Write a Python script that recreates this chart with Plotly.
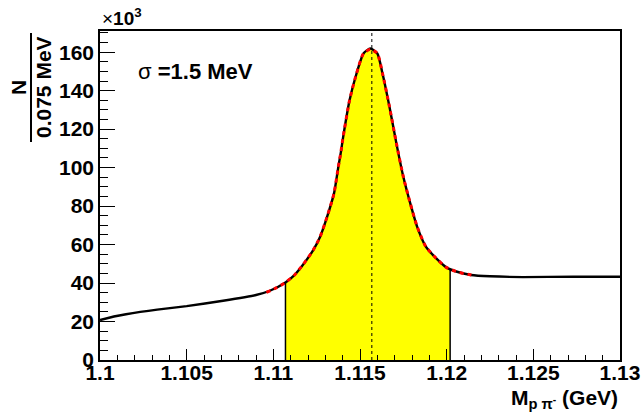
import numpy as np
import plotly.graph_objects as go

# histogram (thousands of entries per 0.075 MeV bin)
hist_x = [1.1000, 1.1008, 1.1015, 1.1033, 1.1050, 1.1071, 1.1090, 1.1098, 1.1107, 1.1112,
          1.1117, 1.1123, 1.1127, 1.1131, 1.1135, 1.11375, 1.1139, 1.1140, 1.1144,
          1.1148, 1.1152, 1.1156, 1.1160, 1.1163, 1.1167, 1.1171, 1.1175, 1.1179,
          1.1183, 1.1188, 1.1194, 1.1200, 1.1207, 1.1214, 1.1225, 1.1244, 1.1273, 1.1300]
hist_y = [20.8, 22.6, 23.8, 26.2, 28.0, 30.8, 33.8, 36.0, 40.3, 44.0,
          49.4, 57.1, 64.1, 74.4, 86.6, 100.4, 108.2, 114.3, 135.1,
          148.9, 159.3, 161.9, 159.3, 148.9, 131.6, 112.6, 95.2, 81.4,
          69.2, 58.9, 52.8, 48.0, 45.6, 44.2, 43.5, 43.1, 43.3, 43.3]

# fit curve (red dashed)
fit_x = [1.1096, 1.1102, 1.1107, 1.1112, 1.1117, 1.1123, 1.1127, 1.1131, 1.1135,
         1.11375, 1.1139, 1.1140, 1.1144, 1.1148, 1.1152, 1.1156, 1.1160, 1.1163,
         1.1167, 1.1171, 1.1175, 1.1179, 1.1183, 1.1188, 1.1194, 1.1200, 1.1207, 1.1215]
fit_y = [35.2, 37.6, 40.3, 44.0, 49.4, 57.1, 64.1, 74.4, 86.6,
         100.4, 108.2, 114.3, 135.1, 148.9, 159.3, 161.5, 159.3, 148.9,
         131.6, 112.6, 95.2, 81.4, 69.2, 58.9, 52.8, 48.0, 45.6, 44.0]

sel_lo, sel_hi = 1.1107, 1.1202
peak_mass = 1.115683

x_ticks = [1.1, 1.105, 1.11, 1.115, 1.12, 1.125, 1.13]
x_ticktext = ["1.1", "1.105", "1.11", "1.115", "1.12", "1.125", "1.13"]
y_ticks = [0, 20, 40, 60, 80, 100, 120, 140, 160]

hx = np.array(hist_x)
hy = np.array(hist_y)
inner = (hx > sel_lo) & (hx < sel_hi)
fx = np.concatenate([[sel_lo], hx[inner], [sel_hi]])
fy = np.concatenate([[np.interp(sel_lo, hx, hy)], hy[inner], [np.interp(sel_hi, hx, hy)]])

FONT = "Liberation Sans, Arial, Helvetica, sans-serif"

# plot area in page pixels: x 100..620, y 31..360
L, T, PW, PH = 100, 31, 520, 329


def px(xpix):
    return (xpix - 100) / PW


def py(ypix):
    return (360 - ypix) / PH


fig = go.Figure()
fig.add_trace(go.Scatter(x=fx, y=fy, mode="lines", line=dict(width=0, shape="spline", smoothing=0.6),
                         fill="tozeroy", fillcolor="#ffff00", hoverinfo="skip"))
fig.add_trace(go.Scatter(x=[sel_lo, sel_lo, None, sel_hi, sel_hi],
                         y=[0, fy[0], None, 0, fy[-1]], mode="lines",
                         line=dict(color="black", width=1.5)))
fig.add_trace(go.Scatter(x=hist_x, y=hist_y, mode="lines",
                         line=dict(color="black", width=2.4, shape="spline", smoothing=0.6)))
fig.add_trace(go.Scatter(x=fit_x, y=fit_y, mode="lines",
                         line=dict(color="#ff0000", width=3, dash="4px,4px", shape="spline",
                                   smoothing=0.6)))

fig.add_shape(type="line", xref="x", yref="paper", x0=peak_mass, x1=peak_mass, y0=0, y1=1,
              line=dict(color="black", width=1, dash="3px,3px"))

# y-axis title as a fraction
fig.add_annotation(text="<b>N</b>", xref="paper", yref="paper", x=px(18), y=py(88),
                   textangle=-90, showarrow=False, xanchor="center", yanchor="middle",
                   font=dict(family=FONT, size=21, color="black"))
fig.add_annotation(text="<b>0.075 MeV</b>", xref="paper", yref="paper", x=px(43), y=py(87),
                   textangle=-90, showarrow=False, xanchor="center", yanchor="middle",
                   font=dict(family=FONT, size=21, color="black"))
fig.add_shape(type="line", xref="paper", yref="paper", x0=px(31), x1=px(31),
              y0=py(33), y1=py(142), line=dict(color="black", width=2))

fig.add_annotation(text="×<b>10<sup>3</sup></b>", xref="paper", yref="paper", x=0, y=1,
                   xanchor="left", yanchor="bottom", showarrow=False,
                   font=dict(family=FONT, size=19, color="black"))
fig.add_annotation(text="σ <b>=1.5 MeV</b>", xref="paper", yref="paper", x=px(136),
                   y=py(71), xanchor="left", yanchor="middle", showarrow=False,
                   font=dict(family=FONT, size=22, color="black"))
fig.add_annotation(text="<b>M<sub>p π<sup>-</sup></sub> (GeV)</b>", xref="paper", yref="paper",
                   x=1, y=py(399), xanchor="right", yanchor="middle", showarrow=False,
                   font=dict(family=FONT, size=21, color="black"))

fig.update_layout(
    width=644, height=414, showlegend=False,
    margin=dict(l=L, r=644 - L - PW, t=T, b=414 - T - PH, autoexpand=False),
    plot_bgcolor="white", paper_bgcolor="white",
    xaxis=dict(range=[1.1, 1.13], tickvals=x_ticks, ticktext=x_ticktext, automargin=False,
               ticks="inside", ticklen=11, tickwidth=1.2, tickcolor="black",
               showline=True, linecolor="black", linewidth=1.5, mirror=True,
               showgrid=False, zeroline=False, ticklabeloverflow="allow",
               ticklabelstandoff=-7,
               tickfont=dict(family=FONT, size=21, color="black", weight="bold"),
               minor=dict(dtick=0.001, tick0=1.1, ticks="inside", ticklen=5,
                          tickwidth=1.2, tickcolor="black", showgrid=False)),
    yaxis=dict(range=[0, 171], tickvals=y_ticks, automargin=False,
               ticks="inside", ticklen=15, tickwidth=1.2, tickcolor="black",
               showline=True, linecolor="black", linewidth=1.5, mirror=True,
               showgrid=False, zeroline=False, ticklabeloverflow="allow",
               tickfont=dict(family=FONT, size=21, color="black", weight="bold"),
               minor=dict(dtick=5, tick0=0, ticks="inside", ticklen=8,
                          tickwidth=1.2, tickcolor="black", showgrid=False)),
)

fig.write_html("out.html", config={"displayModeBar": False},
               post_script="document.body.style.margin='0';document.body.style.overflow='hidden';")
